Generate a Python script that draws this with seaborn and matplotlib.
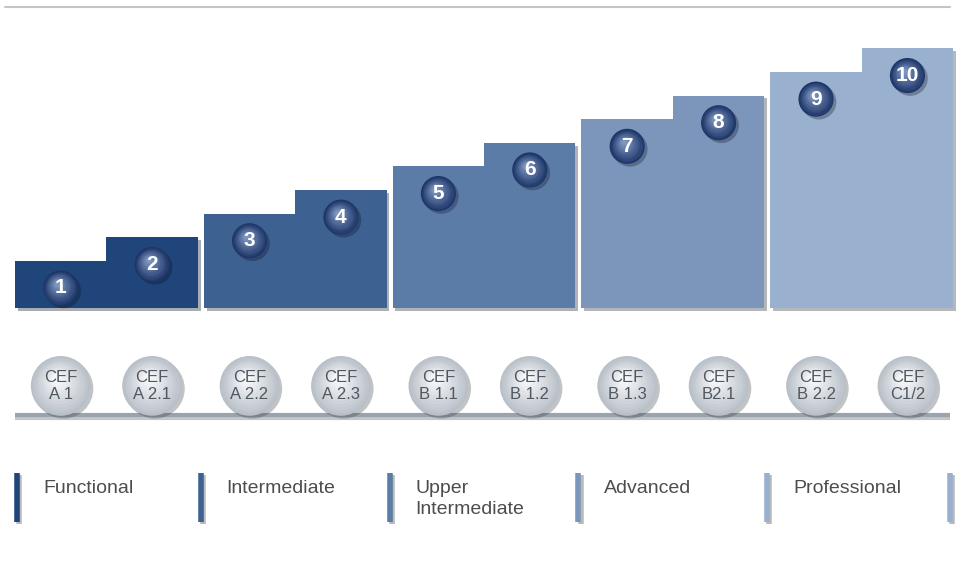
import pandas as pd
import numpy as np
import matplotlib.pyplot as plt
import matplotlib.patheffects as pe
import seaborn as sns

sns.set_theme(style="white")
plt.rcParams["font.family"] = ["Liberation Sans", "DejaVu Sans"]

# --- data ---
levels = [1, 2, 3, 4, 5, 6, 7, 8, 9, 10]
step_heights = [2, 3, 4, 5, 6, 7, 8, 9, 10, 11]
cef_labels = ["CEF\nA 1", "CEF\nA 2.1", "CEF\nA 2.2", "CEF\nA 2.3", "CEF\nB 1.1",
              "CEF\nB 1.2", "CEF\nB 1.3", "CEF\nB2.1", "CEF\nB 2.2", "CEF\nC1/2"]
groups = ["Functional", "Intermediate", "Upper\nIntermediate", "Advanced", "Professional"]
group_colors = ["#1f457a", "#3d6191", "#5c7ca8", "#7c96bb", "#99b0cf"]

# --- layout (step units) ---
gap = 0.066
group_of = [i // 2 for i in range(len(levels))]
centers = [i + g * gap + 0.5 for i, g in enumerate(group_of)]
group_left = [2 * k * (1 + gap / 2) for k in range(len(groups))]
right_end = centers[-1] + 0.5

df = pd.DataFrame({"pos": centers, "height": step_heights,
                   "group": [groups[g] for g in group_of]})

fig = plt.figure(figsize=(9.63, 5.64), dpi=100)
ax = fig.add_axes([0, 0, 1, 1])

sns.barplot(data=df, x="pos", y="height", hue="group", palette=group_colors,
            native_scale=True, width=1.0, dodge=False, errorbar=None,
            saturation=1, linewidth=0, legend=False, ax=ax)
for p in ax.patches:
    p.set_path_effects([pe.SimplePatchShadow(offset=(2, -2), alpha=0.35), pe.Normal()])


def sphere(x, y, size, dark, light, n=12, dx=-0.04, dy=0.16, shadow=True):
    # stacked circles give a simple radial shading
    c_dark = np.array(plt.matplotlib.colors.to_rgb(dark))
    c_light = np.array(plt.matplotlib.colors.to_rgb(light))
    for k in range(n):
        t = k / (n - 1)
        col = c_dark * (1 - t) + c_light * t
        s = size * (1 - 0.85 * t) ** 2
        eff = [pe.SimplePatchShadow(offset=(2, -2), alpha=0.3), pe.Normal()] if (k == 0 and shadow) else None
        ax.scatter(np.array(x) + dx * t, np.array(y) + dy * t, s=s, color=col,
                   linewidths=0, zorder=5 + k * 0.01, path_effects=eff)


# number badges
badge_y = [h - 1.15 for h in step_heights]
sphere(centers, badge_y, 640, "#1d3668", "#7d95bf", dy=0.18)
for x, y, lv in zip(centers, badge_y, levels):
    ax.text(x, y, str(lv), color="white", fontsize=15, fontweight="bold",
            ha="center", va="center", zorder=7)

# CEF spheres
cef_y = -3.3
sphere(centers, [cef_y] * len(centers), 1850, "#b9c0c8", "#f6f7f9", dy=0.32)
for x, lab in zip(centers, cef_labels):
    ax.text(x, cef_y, lab, color="#50575f", fontsize=12, ha="center",
            va="center", linespacing=1.12, zorder=7)

# base line
ax.plot([0, 10.23], [-4.53, -4.53], color="#9aa4ae", lw=3, solid_capstyle="butt",
        path_effects=[pe.SimpleLineShadow(offset=(0, -2), alpha=0.25), pe.Normal()], zorder=3)

# top rule
ax.plot([-0.11, 10.23], [12.75, 12.75], color="#c4c4c4", lw=1.5, zorder=1)

# bottom group legend
bar_x = [0.025] + [g - gap / 2 for g in group_left[1:]] + [right_end - 0.03]
bar_cols = group_colors + [group_colors[-1]]
for x, c in zip(bar_x, bar_cols):
    ax.plot([x, x], [-6.99, -9.07], color=c, lw=4, solid_capstyle="butt",
            path_effects=[pe.SimpleLineShadow(offset=(1.5, -1.5), alpha=0.3), pe.Normal()])
for bx, name in zip(bar_x, groups):
    ax.text(bx + 0.28, -7.3, name, color="#4d4d4d", fontsize=14,
            ha="left", va="top", linespacing=1.3)

ax.set_xlim(-15 / 91.4, (963 - 15) / 91.4)
ax.set_ylim(-256 / 23.6, (564 - 256) / 23.6)
ax.axis("off")

fig.savefig("out.png", dpi=100, facecolor="white")
